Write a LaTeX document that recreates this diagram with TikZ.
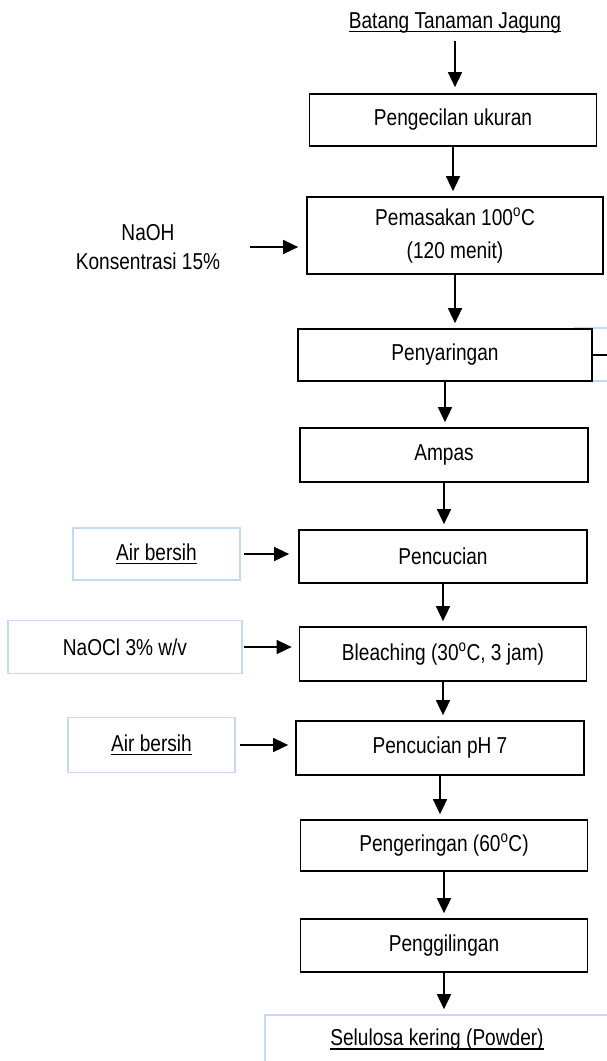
\documentclass[tikz,border=0pt]{standalone}
\usepackage{fontspec}
\setmainfont[FakeStretch=0.83]{Liberation Sans}
\newcommand\myul[1]{\leavevmode\setbox0\hbox{#1}\rlap{\rule[-3.6pt]{\wd0}{1.3pt}}\box0}
\usetikzlibrary{arrows.meta}
\definecolor{lblue}{HTML}{C6D9F1}
\begin{document}
\begin{tikzpicture}[x=1pt,y=-1pt,
  every node/.style={font=\fontsize{23}{33}\selectfont, inner sep=0pt},
  procbox/.style={draw=black, line width=1.7pt, fill=white, align=center},
  inbox/.style={draw=lblue, line width=1.6pt, fill=white, align=center},
  arr/.style={line width=1.5pt, -{Triangle[length=15pt,width=14pt]}},
]
\useasboundingbox (0,0) rectangle (606,1061);

% main column
\node (batang) at (455,23) {\myul{Batang Tanaman Jagung}};
\node[procbox, minimum width=287, minimum height=52] (pengecilan) at (453,120) {Pengecilan ukuran};
\node[procbox, minimum width=296, minimum height=77] (pemasakan) at (455,235.5) {Pemasakan 100\textsuperscript{o}C\\(120 menit)};
\node[inbox, minimum width=70, minimum height=53] (filtrat) at (610,354.5) {};
\node[procbox, minimum width=294, minimum height=52] (penyaringan) at (445,355) {Penyaringan};
\node[procbox, minimum width=288, minimum height=54] (ampas) at (444,455) {Ampas};
\node[procbox, minimum width=288, minimum height=53] (pencucian) at (443,556.5) {Pencucian};
\node[procbox, minimum width=287, minimum height=54] (bleaching) at (443,654) {Bleaching (30\textsuperscript{o}C, 3 jam)};
\node[procbox, minimum width=288, minimum height=54] (ph) at (440,748) {Pencucian pH 7};
\node[procbox, minimum width=287, minimum height=51] (pengeringan) at (444,845.5) {Pengeringan (60\textsuperscript{o}C)};
\node[procbox, minimum width=287, minimum height=53] (penggilingan) at (444,945.5) {Penggilingan};
\node[inbox, minimum width=344, minimum height=50] (selulosa) at (437,1040) {\myul{Selulosa kering (Powder)}};

% inputs
\node[align=center, font=\fontsize{23}{29}\selectfont] (naoh) at (148,247) {NaOH\\Konsentrasi 15\%};
\node[inbox, minimum width=167, minimum height=52] (air1) at (156.5,554) {\myul{Air bersih}};
\node[inbox, minimum width=234, minimum height=53] (naocl) at (125,647) {NaOCl 3\% w/v};
\node[inbox, minimum width=167, minimum height=55] (air2) at (151.5,745) {\myul{Air bersih}};

% vertical flow
\draw[arr, shorten <=7pt, shorten >=6pt] (batang.south) -- (batang.south |- pengecilan.north);
\foreach \a/\b in {pengecilan/pemasakan, pemasakan/penyaringan, penyaringan/ampas, ampas/pencucian,
  pencucian/bleaching, bleaching/ph, ph/pengeringan, pengeringan/penggilingan, penggilingan/selulosa}
  \draw[arr, shorten >=5pt] (\a.south) -- (\a.south |- \b.north);

% side arrows
\draw[arr, shorten <=30pt, shorten >=8pt] (naoh.east) -- (naoh.east -| pemasakan.west);
\draw[arr, shorten <=3pt, shorten >=9pt] (air1.east) -- (air1.east -| pencucian.west);
\draw[arr, shorten <=1pt, shorten >=7pt] (naocl.east) -- (naocl.east -| bleaching.west);
\draw[arr, shorten <=4pt, shorten >=7pt] (air2.east) -- (air2.east -| ph.west);

% filtrate stub
\coordinate (stub) at (615,355);
\draw[line width=1.6pt] (penyaringan.east) -- (stub);
\end{tikzpicture}
\end{document}
